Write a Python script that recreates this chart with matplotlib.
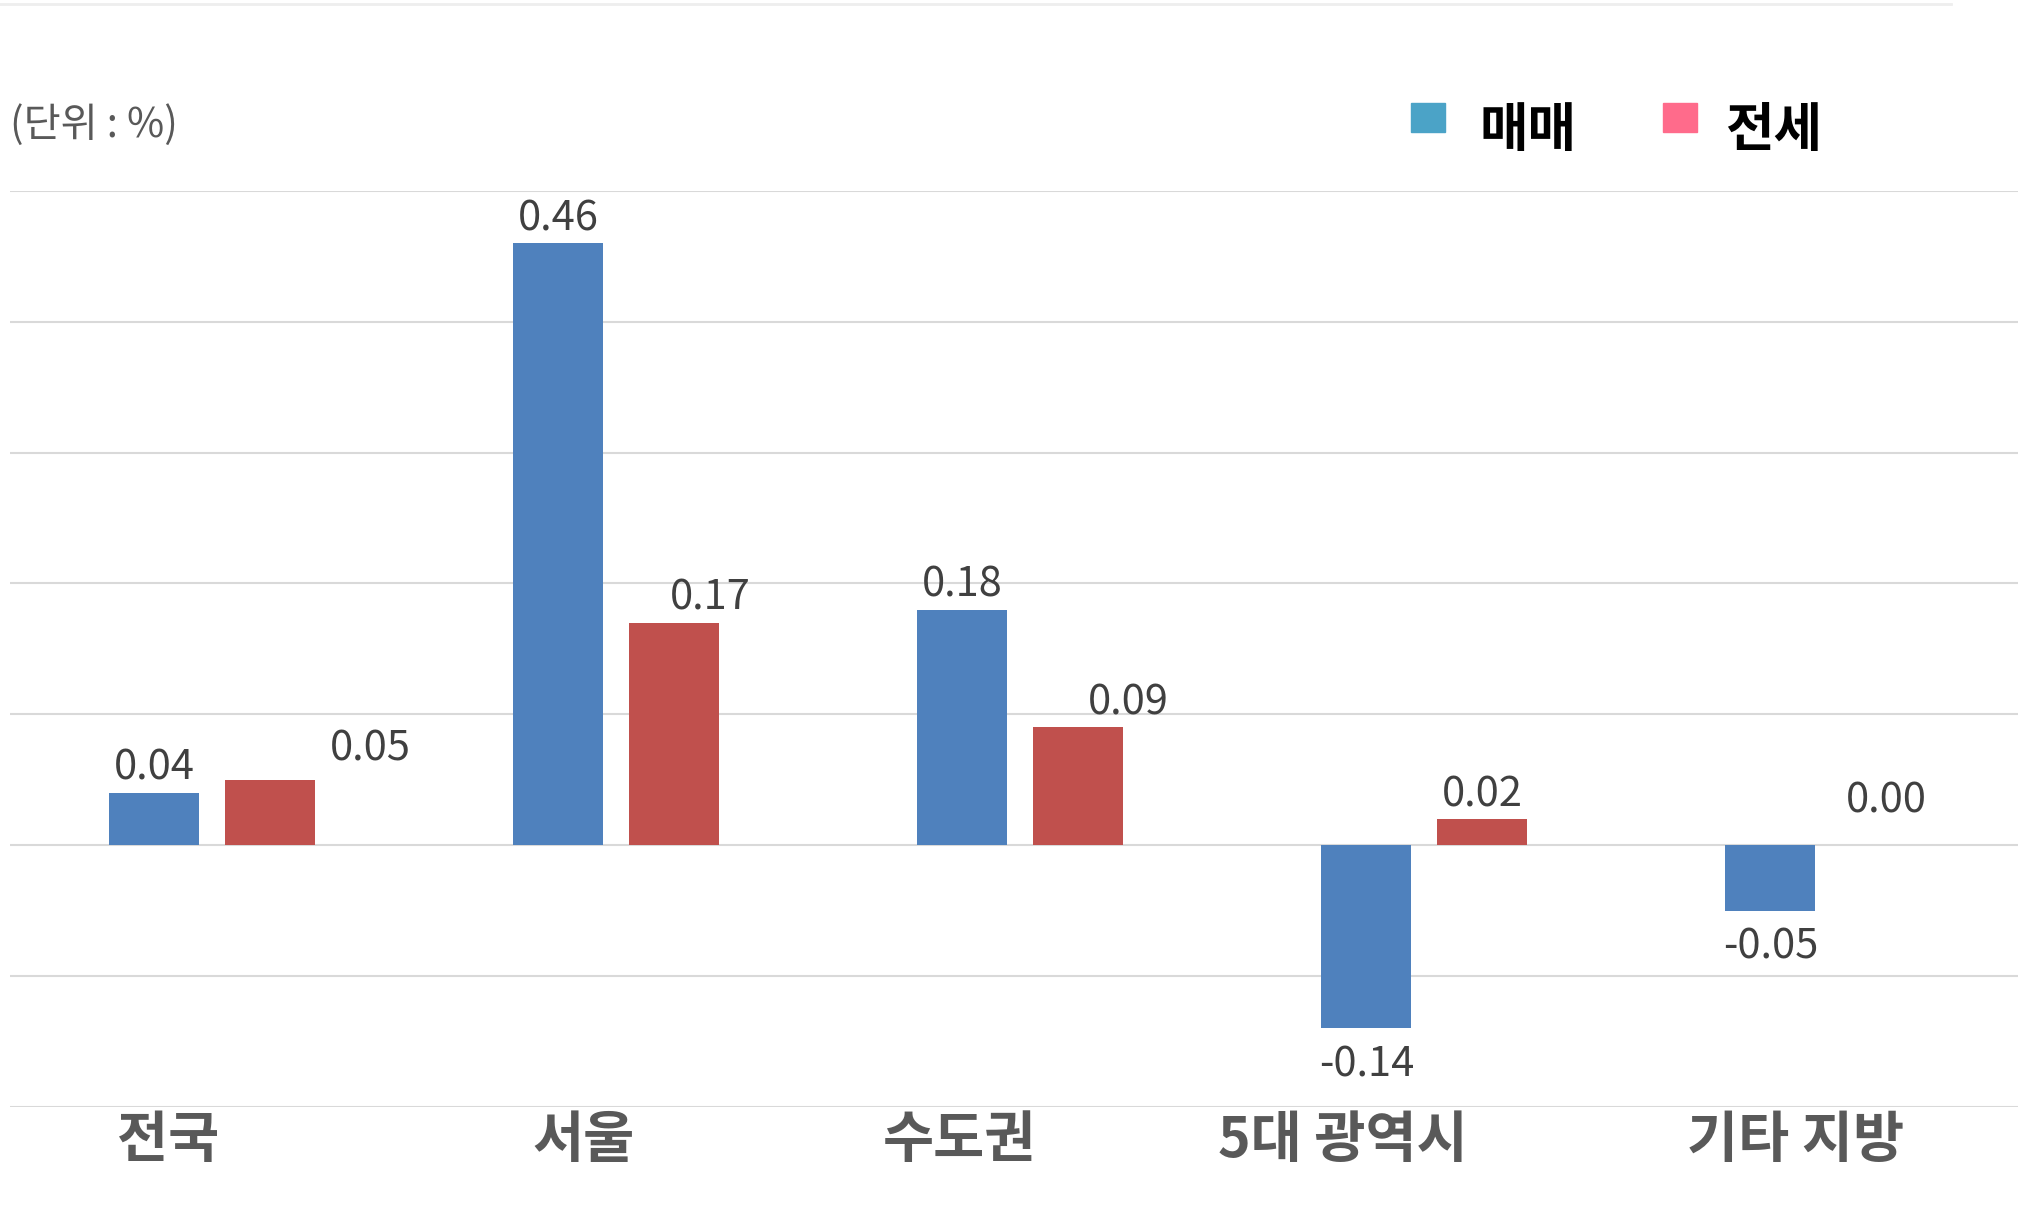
import matplotlib
matplotlib.use("Agg")
import matplotlib.pyplot as plt
import numpy as np
from matplotlib.patches import Rectangle

plt.rcParams["font.family"] = "Noto Sans CJK KR"

categories = ["전국", "서울", "수도권", "5대 광역시", "기타 지방"]
sale = [0.04, 0.46, 0.18, -0.14, -0.05]
jeonse = [0.05, 0.17, 0.09, 0.02, 0.00]
sale_labels = ["0.04", "0.46", "0.18", "-0.14", "-0.05"]
jeonse_labels = ["0.05", "0.17", "0.09", "0.02", "0.00"]

fig = plt.figure(figsize=(20.18, 12.15), dpi=100)
ax = fig.add_axes([0.005, 0.089, 0.995, 0.754])
x = np.arange(len(categories))
w = 0.223
off = 0.143
ax.bar(x - off, sale, w, color="#4F81BD", zorder=3)
ax.bar(x + off, jeonse, w, color="#C0504D", zorder=3)
ax.set_ylim(-0.2, 0.5)
ax.set_xlim(-0.5, 4.47)
ax.set_yticks(np.arange(-0.2, 0.51, 0.1))
ax.yaxis.grid(True, color="#D9D9D9", linewidth=1.5, zorder=0)
ax.set_yticklabels([])
ax.tick_params(length=0)
for s in ax.spines.values():
    s.set_visible(False)
ax.set_xticks([])

cat_shift = [-0.11, -0.08, -0.15, -0.2, -0.08]
for i, c in enumerate(categories):
    ax.text(x[i] + cat_shift[i], -0.205, c, ha="center", va="top", fontsize=40,
            fontweight="bold", color="#595959")

for i, (v, t) in enumerate(zip(sale, sale_labels)):
    y = v + 0.003 if v >= 0 else v - 0.012
    ax.text(x[i] - off, y, t, ha="center", va="bottom" if v >= 0 else "top",
            fontsize=30, color="#404040")
jx = [0.25, 0.09, 0.125, 0.0, 0.0]
jy = [0.008, 0.003, 0.003, 0.003, 0.018]
for i, (v, t) in enumerate(zip(jeonse, jeonse_labels)):
    ax.text(x[i] + off + jx[i], v + jy[i], t, ha="center", va="bottom",
            fontsize=30, color="#404040")

fig.text(0.005, 0.897, "(단위 : %)", fontsize=29, color="#595959", va="center")
fig.patches.append(Rectangle((0.699, 0.891), 0.017, 0.024, transform=fig.transFigure,
                             color="#4BA3C7", figure=fig))
fig.text(0.733, 0.893, "매매", fontsize=38, fontweight="bold", va="center")
fig.patches.append(Rectangle((0.824, 0.891), 0.017, 0.024, transform=fig.transFigure,
                             color="#FF6B8B", figure=fig))
fig.text(0.855, 0.893, "전세", fontsize=38, fontweight="bold", va="center")
fig.add_artist(plt.Line2D([0, 0.967], [0.997, 0.997], color="#EEEEEE", lw=2,
                          transform=fig.transFigure))
fig.savefig("out.png", dpi=100, facecolor="white")
